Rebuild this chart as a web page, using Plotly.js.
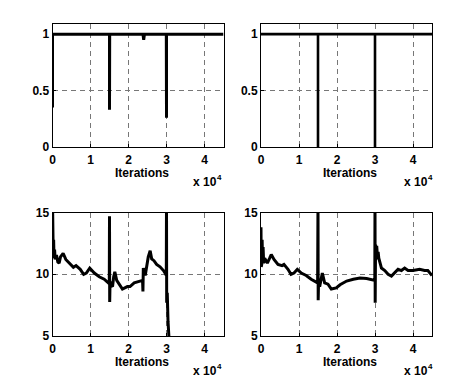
<!DOCTYPE html>
<html>
<head>
<meta charset="utf-8">
<script src="https://cdn.plot.ly/plotly-3.0.1.min.js"></script>
<style>html,body{margin:0;padding:0;background:#fff}#chart{width:476px;height:383px}</style>
</head>
<body>
<div id="chart"></div>
<script>
// Tick labels
const xTickVals = [0, 10000, 20000, 30000, 40000];
const xTickText = ["0", "1", "2", "3", "4"];
const topTickVals = [0, 0.5, 1];
const topTickText = ["0", "0.5", "1"];
const botTickVals = [5, 10, 15];
const botTickText = ["5", "10", "15"];
const xTitle = "Iterations";
const xScaleBase = "x 10";
const xScaleExp = "4";

// Top-left series
const tlX = [0, 0, 14950, 15000, 15000, 15050, 23800, 24000, 24200, 29950, 30000, 30000, 30050, 45000];
const tlY = [0.35, 1, 1, 1, 0.33, 1, 1, 0.95, 1, 1, 0.26, 1, 1, 1];

// Top-right series
const trX = [0, 15000, 15000, 15000, 30000, 30000, 30000, 45000];
const trY = [1, 1, 0, 1, 1, 0, 1, 1];

// Bottom-left series
const blX = [0, 60, 120, 200, 300, 400, 550, 700, 1050, 1400, 1750, 2100, 2800, 3500, 4600, 5500, 6200, 7300, 8200, 8900, 9800, 11000, 12300, 13600, 14700, 14950, 15000, 15050, 15150, 15400, 15800, 16100, 16400, 16900, 17500, 18400, 19700, 20400, 21500, 23100, 23700, 23800, 23900, 24400, 24800, 25200, 25700, 26100, 26700, 27400, 28300, 29200, 29800, 29950, 30000, 30050, 30100, 30200, 30400, 30600, 30900];
const blY = [16, 11.8, 14.5, 11.5, 12.8, 11.3, 12.0, 11.2, 11.56, 11.0, 10.9, 11.4, 11.7, 11.2, 10.8, 10.56, 10.7, 10.4, 10.0, 10.1, 10.5, 10.1, 9.8, 9.6, 9.3, 9.5, 14.7, 7.76, 9.4, 9.1, 9.0, 9.8, 10.2, 9.5, 9.2, 8.8, 9.0, 9.0, 9.3, 9.4, 9.5, 8.6, 10.5, 9.9, 10.7, 11.4, 11.9, 11.25, 11.1, 10.8, 10.6, 10.3, 10.0, 9.9, 16, 7.7, 16, 8.5, 6.2, 5.5, 3.5];

// Bottom-right series
const brX = [0, 60, 120, 200, 300, 400, 550, 700, 970, 1670, 2280, 2700, 3420, 4470, 5530, 6050, 7100, 7900, 8680, 9560, 10600, 11900, 13200, 14300, 14900, 15000, 15050, 15150, 15440, 15800, 16140, 16750, 17630, 18500, 19800, 20800, 21600, 22540, 24300, 26050, 27800, 29560, 29950, 30000, 30050, 30150, 30300, 30450, 30650, 30830, 31000, 31270, 31700, 32580, 33450, 34330, 35200, 36070, 36950, 37800, 38700, 40000, 41750, 43050, 43900, 44800, 45000];
const brY = [13.8, 10.6, 13.4, 10.8, 12.8, 11.0, 12.2, 10.9, 11.3, 10.9, 11.3, 11.6, 11.2, 10.8, 10.7, 10.8, 10.4, 10.0, 10.1, 10.4, 10.1, 9.9, 9.6, 9.4, 9.3, 16, 7.9, 9.4, 9.0, 9.6, 10.1, 9.3, 9.2, 8.8, 8.9, 9.15, 9.3, 9.45, 9.6, 9.7, 9.65, 9.55, 9.5, 16, 7.7, 12.4, 11.2, 12.3, 11.4, 11.8, 11.3, 11.0, 10.5, 10.3, 10.0, 9.85, 10.1, 10.4, 10.3, 10.5, 10.3, 10.3, 10.4, 10.3, 10.3, 10.0, 9.9];

const W = 476, H = 383;
const px = v => v / W;
const py = v => 1 - v / H;

const lineStyle = {color: '#000', width: 3};
const traces = [
  {x: tlX, y: tlY, xaxis: 'x', yaxis: 'y', mode: 'lines', line: lineStyle, hoverinfo: 'skip'},
  {x: trX, y: trY, xaxis: 'x2', yaxis: 'y2', mode: 'lines', line: {color: '#000', width: 2.6}, hoverinfo: 'skip'},
  {x: blX, y: blY, xaxis: 'x3', yaxis: 'y3', mode: 'lines', line: lineStyle, hoverinfo: 'skip'},
  {x: brX, y: brY, xaxis: 'x4', yaxis: 'y4', mode: 'lines', line: lineStyle, hoverinfo: 'skip'}
];

const tickFont = {family: 'Liberation Sans, Arial, sans-serif', size: 12, color: '#000', weight: 'bold'};
function xax(dom, anchor) {
  return {
    domain: dom, anchor: anchor, range: [0, 45000],
    tickvals: xTickVals, ticktext: xTickText,
    showline: true, linecolor: '#000', linewidth: 1, mirror: true,
    ticks: 'inside', ticklen: 3, tickcolor: '#000', ticklabelstandoff: 2,
    showgrid: true, gridcolor: '#777', gridwidth: 1, griddash: '5px,4px',
    zeroline: false, tickfont: tickFont, fixedrange: true
  };
}
function yax(dom, anchor, range, tv, tt) {
  return {
    domain: dom, anchor: anchor, range: range,
    tickvals: tv, ticktext: tt,
    showline: true, linecolor: '#000', linewidth: 1, mirror: true,
    ticks: 'inside', ticklen: 3, tickcolor: '#000',
    showgrid: true, gridcolor: '#777', gridwidth: 1, griddash: '5px,4px',
    zeroline: false, tickfont: tickFont, fixedrange: true
  };
}

const leftDom = [px(52.5), px(223.5)];
const rightDom = [px(261), px(432)];
const topDom = [py(147), py(24)];
const botDom = [py(336), py(212.5)];

const annFont = {family: 'Liberation Sans, Arial, sans-serif', size: 12, color: '#000', weight: 'bold'};
const expFont = {family: 'Liberation Sans, Arial, sans-serif', size: 8, color: '#000', weight: 'bold'};
function ann(x, y, text, anchor, font) {
  return {xref: 'paper', yref: 'paper', x: px(x), y: py(y), text: text, showarrow: false,
          xanchor: anchor || 'center', yanchor: 'middle', font: font || annFont,
          borderpad: 0, borderwidth: 0};
}
function scaleLabel(xRight, y) {
  return [ann(xRight, y, xScaleBase, 'right'), ann(xRight, y - 5, xScaleExp, 'left', expFont)];
}

const layout = {
  width: W, height: H,
  margin: {l: 0, r: 0, t: 0, b: 0},
  paper_bgcolor: '#fff', plot_bgcolor: '#fff',
  showlegend: false,
  xaxis: xax(leftDom, 'y'),
  yaxis: yax(topDom, 'x', [0, 1.09], topTickVals, topTickText),
  xaxis2: xax(rightDom, 'y2'),
  yaxis2: yax(topDom, 'x2', [0, 1.09], topTickVals, topTickText),
  xaxis3: xax(leftDom, 'y3'),
  yaxis3: yax(botDom, 'x3', [5, 15], botTickVals, botTickText),
  xaxis4: xax(rightDom, 'y4'),
  yaxis4: yax(botDom, 'x4', [5, 15], botTickVals, botTickText),
  annotations: [
    ann(141.5, 173, xTitle),
    ann(350, 173, xTitle),
    ann(141.5, 362, xTitle),
    ann(350, 362, xTitle)
  ].concat(scaleLabel(216.5, 182), scaleLabel(427.5, 182), scaleLabel(216.5, 371), scaleLabel(427.5, 371))
};

Plotly.newPlot('chart', traces, layout, {staticPlot: true, displayModeBar: false});
</script>
</body>
</html>
